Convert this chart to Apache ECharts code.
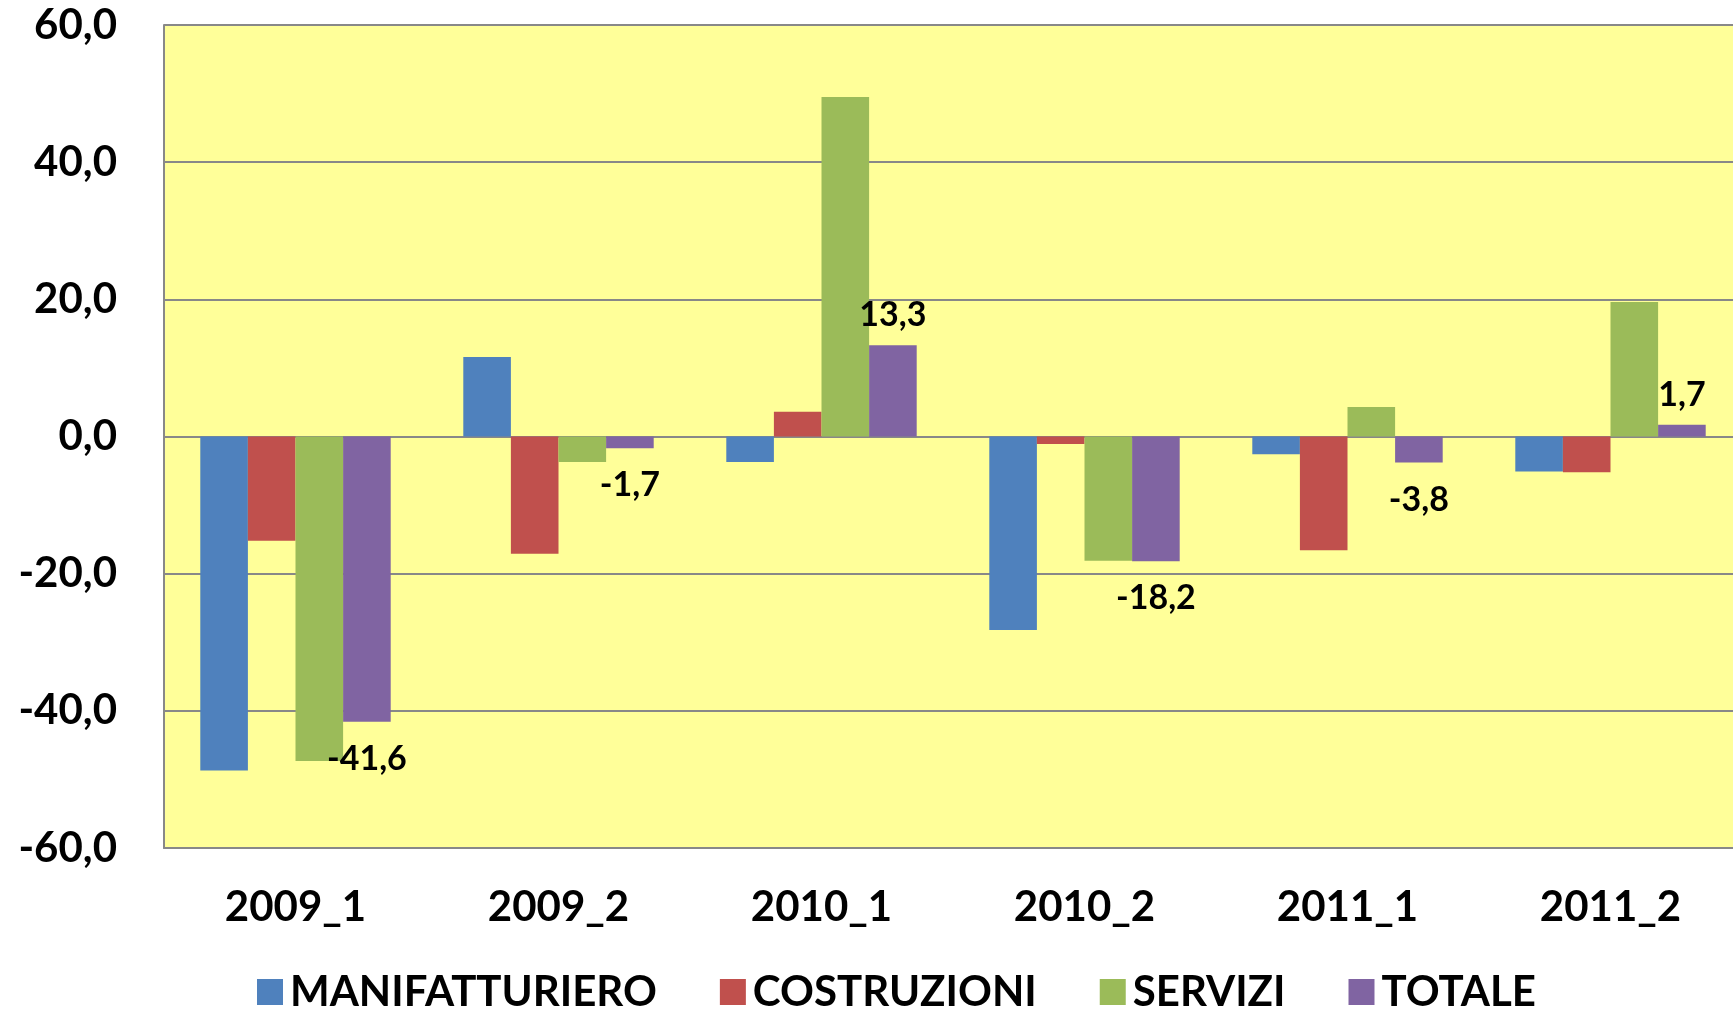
<!DOCTYPE html>
<html>
<head>
<meta charset="utf-8">
<script src="https://cdn.jsdelivr.net/npm/echarts@6/dist/echarts.min.js"></script>
<style>
html, body { margin: 0; padding: 0; background: #fff; overflow: hidden; }
#chart { width: 1742px; height: 1011px; }
</style>
</head>
<body>
<div id="chart"></div>
<script>
// categorie (semestri)
var periodi = ['2009_1', '2009_2', '2010_1', '2010_2', '2011_1', '2011_2'];
var serieNomi = ['MANIFATTURIERO', 'COSTRUZIONI', 'SERVIZI', 'TOTALE'];
// valori
var manifatturiero = [-48.7, 11.6, -3.7, -28.2, -2.6, -5.1];
var costruzioni = [-15.2, -17.1, 3.6, -1.1, -16.6, -5.2];
var servizi = [-47.3, -3.7, 49.5, -18.1, 4.3, 19.6];
var totale = [-41.6, -1.7, 13.3, -18.2, -3.8, 1.7];
var colori = ['#4F81BD', '#C0504D', '#9BBB59', '#8064A2'];

var font = 'Lato';

function virgola(v) {
    return v.toFixed(1).replace('.', ',');
}

function serie(nome, valori, colore, etichette) {
    return {
        name: nome,
        type: 'bar',
        barGap: 0,
        barCategoryGap: '27.6%',
        itemStyle: {color: colore},
        data: valori.map(function (v) {
            if (!etichette) return v;
            return {
                value: v,
                label: {
                    show: true,
                    position: v >= 0 ? 'top' : 'bottom',
                    distance: v >= 0 ? 13 : 20,
                    color: '#000',
                    fontFamily: font,
                    fontWeight: 'bold',
                    fontSize: 34,
                    formatter: function (p) { return virgola(p.value); }
                }
            };
        })
    };
}

var chart = echarts.init(document.getElementById('chart'));
chart.setOption({
    animation: false,
    backgroundColor: '#fff',
    grid: {
        left: 164, top: 25, bottom: 163, right: 0,
        show: true, backgroundColor: '#FFFF99', borderWidth: 0
    },
    legend: {
        data: serieNomi,
        left: 252, top: 966,
        itemWidth: 26, itemHeight: 26, itemGap: 63,
        icon: 'rect',
        textStyle: {fontFamily: font, fontWeight: 'bold', fontSize: 42, color: '#000', padding: [0, 0, 0, 2]}
    },
    xAxis: {
        type: 'category',
        data: periodi,
        axisLine: {onZero: false, lineStyle: {color: '#888', width: 2}},
        axisTick: {show: false},
        axisLabel: {margin: 38, fontFamily: font, fontWeight: 'bold', fontSize: 42, color: '#000'}
    },
    yAxis: {
        type: 'value',
        min: -60, max: 60, interval: 20,
        axisLine: {show: true, lineStyle: {color: '#888', width: 2}},
        axisTick: {show: false},
        splitLine: {lineStyle: {color: '#888', width: 2}},
        axisLabel: {
            margin: 47, fontFamily: font, fontWeight: 'bold', fontSize: 42, color: '#000',
            formatter: virgola
        }
    },
    series: [
        serie(serieNomi[0], manifatturiero, colori[0], false),
        serie(serieNomi[1], costruzioni, colori[1], false),
        serie(serieNomi[2], servizi, colori[2], false),
        serie(serieNomi[3], totale, colori[3], true)
    ]
});
</script>
</body>
</html>
